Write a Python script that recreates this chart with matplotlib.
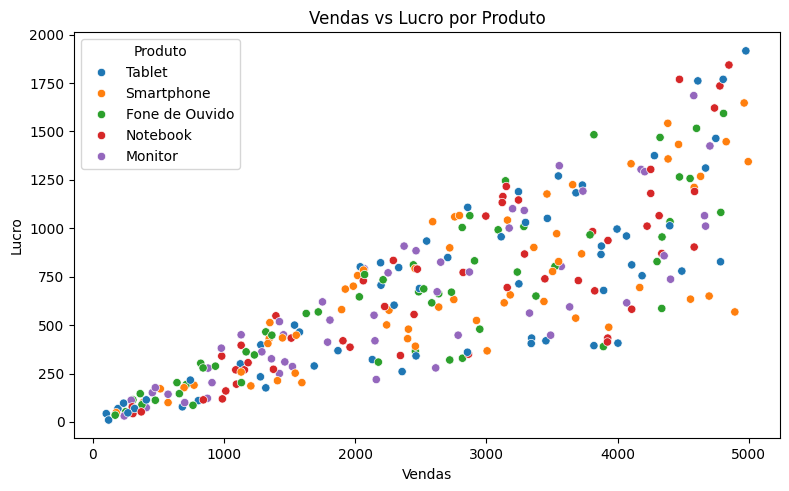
import numpy as np
import pandas as pd
import matplotlib
matplotlib.use("Agg")
import matplotlib.pyplot as plt
import seaborn as sns

produtos = ["Tablet", "Smartphone", "Fone de Ouvido", "Notebook", "Monitor"]

# vendas / lucro, one pair of lists per product
tablet_vendas = [102, 120, 191, 234, 318, 407, 682, 743, 804, 1124, 1280, 1277, 1318, 1537, 1575,
                 1687, 1868, 2038, 2193, 2196, 2296, 2331, 2130, 2357, 2463, 2489, 2544, 2705, 2855,
                 3112, 3247, 3344, 3341, 3453, 3819, 3876, 3873, 3893, 3995, 4002, 4067, 4107, 4186,
                 4397, 4489, 4784, 2857, 3244, 3298, 3464, 4977, 4804, 4611, 4748, 4280, 4670, 3548,
                 3731, 3682, 267]
tablet_lucro = [43, 10, 69, 97, 69, 114, 78, 216, 110, 300, 398, 233, 176, 500, 464,
                289, 368, 801, 822, 706, 603, 797, 322, 260, 341, 689, 934, 849, 360,
                956, 713, 433, 405, 419, 394, 908, 865, 679, 996, 407, 960, 811, 755,
                1013, 779, 827, 1108, 1189, 1030, 1051, 1916, 1769, 1761, 1464, 1375, 1311, 1270,
                1223, 1183, 47]

smart_vendas = [178, 382, 514, 573, 695, 771, 1130, 1204, 1334, 1344, 1349, 1445, 1542, 1593, 1407,
                1896, 1924, 1985, 2018, 2063, 2257, 2239, 2405, 2399, 2456, 2458, 2636, 2751, 2720,
                2924, 3005, 3135, 3181, 3361, 3438, 3504, 3535, 3550, 3680, 3725, 3932, 4168, 4555,
                4697, 4893, 2590, 2758, 2794, 3160, 3461, 4964, 4382, 4464, 4827, 4995, 4384, 4102,
                4632, 4583, 3657, 1550]
smart_lucro = [48, 100, 171, 100, 177, 190, 258, 186, 405, 430, 513, 434, 252, 203, 213,
               580, 686, 701, 756, 784, 577, 501, 479, 430, 792, 391, 593, 632, 899,
               524, 367, 615, 656, 901, 622, 777, 972, 828, 536, 868, 489, 694, 634,
               650, 568, 1034, 1059, 1066, 1042, 1177, 1647, 1542, 1433, 1447, 1344, 1358, 1333,
               1268, 1211, 1225, 448]

fone_vendas = [170, 250, 305, 361, 374, 476, 641, 659, 712, 763, 822, 840, 934, 1132, 1168, 1231,
               1318, 1364, 1626, 1718, 2031, 2071, 2212, 2443, 2458, 2483, 2522, 2583, 2636, 2733,
               2176, 2720, 2817, 2815, 2909, 2949, 3089, 3235, 3285, 3377, 3522, 3789, 3891, 4300,
               4336, 4338, 2873, 3145, 3819, 4323, 4601, 4807, 4471, 4552, 4786, 4399]
fone_lucro = [35, 53, 114, 146, 89, 112, 203, 146, 193, 86, 303, 279, 288, 203, 362, 346,
              465, 448, 560, 568, 646, 761, 734, 811, 365, 672, 687, 615, 662, 670,
              309, 320, 329, 1004, 832, 479, 992, 774, 1009, 650, 803, 966, 389, 828,
              586, 955, 1065, 1245, 1483, 1469, 1516, 1593, 1265, 1257, 1082, 1034]

note_vendas = [300, 305, 369, 842, 987, 1013, 982, 1089, 1094, 1130, 1155, 1183, 1376, 1395, 1512,
               1906, 1960, 2061, 2224, 2290, 2344, 2448, 2473, 2822, 2863, 3158, 3290, 3445, 3700,
               3809, 3825, 3924, 3922, 3926, 4107, 4224, 4336, 4583, 2995, 3151, 3125, 3120, 3244,
               4848, 4471, 4779, 4738, 4252, 4252, 4586, 4316]
note_lucro = [78, 43, 52, 114, 119, 160, 340, 269, 195, 396, 269, 306, 272, 548, 433,
              419, 386, 729, 596, 834, 343, 555, 789, 772, 350, 694, 867, 739, 730,
              983, 677, 433, 413, 937, 582, 1011, 870, 903, 1063, 1216, 1164, 1133, 1146,
              1843, 1769, 1735, 1621, 1304, 1180, 1190, 1065]

monitor_vendas = [239, 292, 407, 453, 476, 573, 700, 878, 873, 908, 979, 1130, 1288, 1361, 1422,
                  1453, 1422, 1463, 1521, 1750, 1789, 1807, 2069, 2143, 2150, 2160, 2250, 2372, 2463,
                  2624, 2651, 2784, 2613, 2870, 3173, 3328, 3489, 3570, 3634, 4069, 4354, 4403, 4670,
                  3199, 3288, 4580, 4703, 4178, 4206, 3555, 3735, 4662]
monitor_lucro = [31, 112, 74, 151, 177, 143, 100, 278, 122, 203, 381, 450, 362, 326, 518,
                 450, 250, 310, 286, 620, 412, 526, 791, 551, 419, 219, 770, 908, 884,
                 672, 825, 448, 279, 774, 1001, 562, 448, 803, 594, 615, 858, 737, 1011,
                 1101, 1092, 1685, 1425, 1304, 1292, 1323, 1192, 1065]

vendas = [tablet_vendas, smart_vendas, fone_vendas, note_vendas, monitor_vendas]
lucro = [tablet_lucro, smart_lucro, fone_lucro, note_lucro, monitor_lucro]

frames = []
for nome, v, l in zip(produtos, vendas, lucro):
    frames.append(pd.DataFrame({"Vendas": v, "Lucro": l, "Produto": nome}))
df = pd.concat(frames, ignore_index=True)
# mix the draw order a bit like the original (one scatter call, shuffled rows)
order = np.argsort((np.arange(len(df)) * 37) % len(df))
df = df.iloc[order].reset_index(drop=True)

fig, ax = plt.subplots(figsize=(7.89, 4.91), dpi=100)
sns.scatterplot(data=df, x="Vendas", y="Lucro", hue="Produto", hue_order=produtos,
                palette="tab10", ax=ax)
ax.set_title("Vendas vs Lucro por Produto")
ax.set_xlabel("Vendas")
ax.set_ylabel("Lucro")
ax.legend(title="Produto", loc="upper left")

fig.subplots_adjust(left=0.094, right=0.989, top=0.934, bottom=0.107)
plt.savefig("out.png", dpi=100)
